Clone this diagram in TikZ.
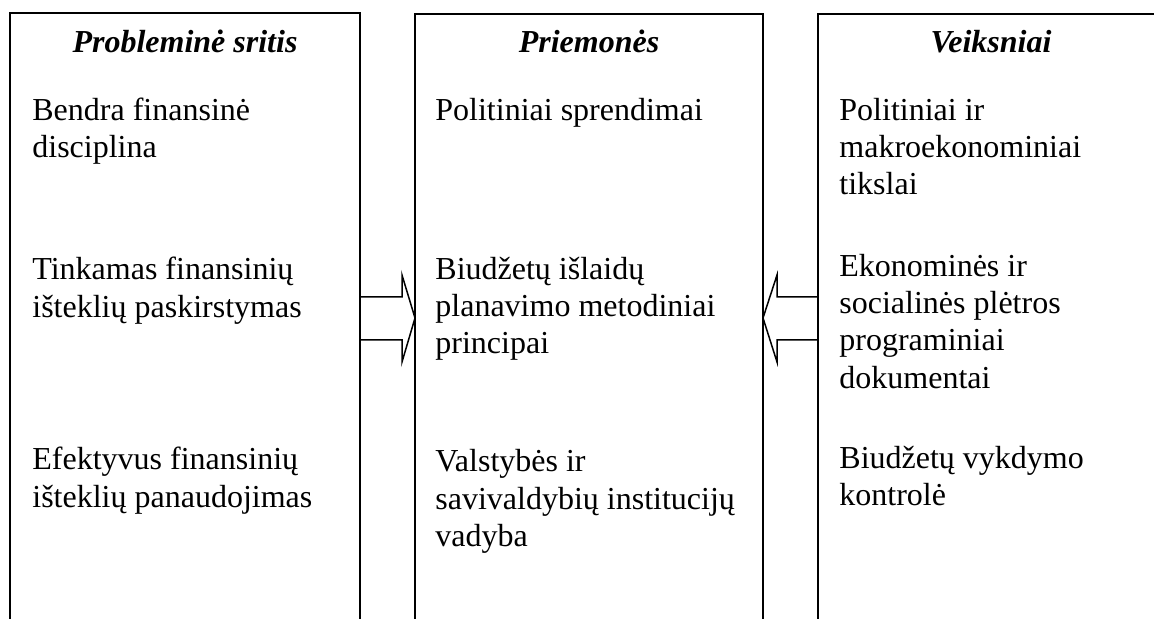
\documentclass[tikz,border=0pt]{standalone}
\usepackage{fontspec}
\setmainfont{Liberation Serif}
\begin{document}
\begin{tikzpicture}[x=0.5pt,y=-0.5pt,
  column/.style={draw=black, line width=1pt, rectangle, outer sep=0pt, inner sep=0pt, anchor=north west, minimum height=360pt},
  heading/.style={anchor=base, inner sep=0pt, font=\fontsize{16}{18.75}\selectfont\bfseries\itshape},
  item/.style={anchor=base west, inner sep=0pt, font=\fontsize{16}{18.75}\selectfont},
  blockarrow/.style={draw=black, line width=0.75pt, line join=miter}]
\useasboundingbox (0,0) rectangle (1154,619);
\clip (0,0) rectangle (1154,619);

% three open-bottomed columns
\node[column, minimum width=175pt] (prob) at (10,13) {};
\node[column, minimum width=174pt] (mid) at (415,14) {};
\node[column, minimum width=173.5pt] (veik) at (818,14) {};

% headings
\node[heading] (hprob) at (185,53) {Probleminė sritis};
\node[heading] (hmid) at (589,53) {Priemonės};
\node[heading] (hveik) at (991,53) {Veiksniai};

% left column
\node[item] (p1a) at (32,121) {Bendra finansinė};
\node[item] (p1b) at (32,158) {disciplina};
\node[item] (p2a) at (32,280) {Tinkamas finansinių};
\node[item] (p2b) at (32,318) {išteklių paskirstymas};
\node[item] (p3a) at (32,469) {Efektyvus finansinių};
\node[item] (p3b) at (32,507) {išteklių panaudojimas};

% middle column
\node[item] (m1a) at (435,121) {Politiniai sprendimai};
\node[item] (m2a) at (435,280) {Biudžetų išlaidų};
\node[item] (m2b) at (435,317) {planavimo metodiniai};
\node[item] (m2c) at (435,354) {principai};
\node[item] (m3a) at (435,471) {Valstybės ir};
\node[item] (m3b) at (435,509) {savivaldybių institucijų};
\node[item] (m3c) at (435,546) {vadyba};

% right column
\node[item] (v1a) at (839,121) {Politiniai ir};
\node[item] (v1b) at (839,158) {makroekonominiai};
\node[item] (v1c) at (839,195) {tikslai};
\node[item] (v2a) at (839,277) {Ekonominės ir};
\node[item] (v2b) at (839,314) {socialinės plėtros};
\node[item] (v2c) at (839,351) {programiniai};
\node[item] (v2d) at (839,388) {dokumentai};
\node[item] (v3a) at (839,468) {Biudžetų vykdymo};
\node[item] (v3b) at (839,505) {kontrolė};

% hollow block arrows pointing into the middle column
\draw[blockarrow] (prob.east |- 0,297) -- (402,297) -- (402,275)
  -- (mid.west |- 0,318) -- (402,362) -- (402,340) -- (prob.east |- 0,340);
\draw[blockarrow] (veik.west |- 0,297) -- (777,297) -- (777,275)
  -- (mid.east |- 0,318) -- (777,362) -- (777,340) -- (veik.west |- 0,340);
\end{tikzpicture}
\end{document}
